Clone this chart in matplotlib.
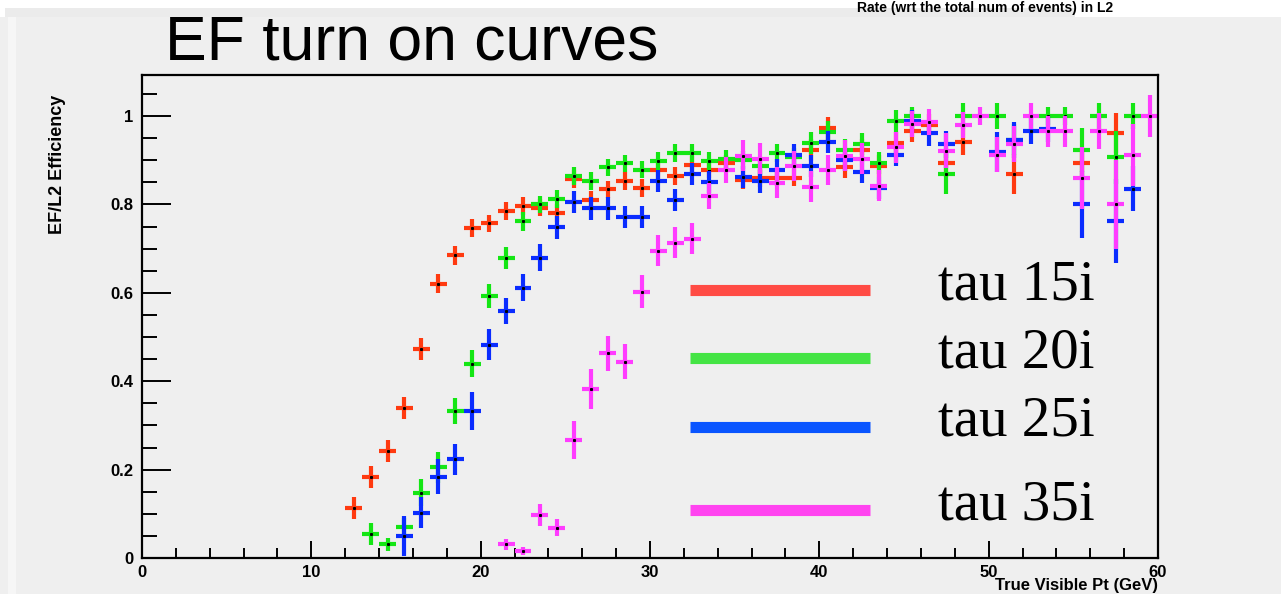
import numpy as np
import matplotlib
matplotlib.use("Agg")
import matplotlib.pyplot as plt
from matplotlib.lines import Line2D
from matplotlib.patches import Rectangle

nan = np.nan

# true visible pT bin centres (1 GeV bins), 12-60 GeV
pt_centres = [12.5, 13.5, 14.5, 15.5, 16.5, 17.5, 18.5, 19.5, 20.5, 21.5, 22.5, 23.5,
              24.5, 25.5, 26.5, 27.5, 28.5, 29.5, 30.5, 31.5, 32.5, 33.5, 34.5, 35.5,
              36.5, 37.5, 38.5, 39.5, 40.5, 41.5, 42.5, 43.5, 44.5, 45.5, 46.5, 47.5,
              48.5, 49.5, 50.5, 51.5, 52.5, 53.5, 54.5, 55.5, 56.5, 57.5, 58.5, 59.5]

labels = ["tau 15i", "tau 20i", "tau 25i", "tau 35i"]

eff_tau15 = [0.113, 0.183, 0.243, 0.339, 0.472, 0.621, 0.685, 0.747, 0.757, 0.786, 0.796, 0.793,
             0.780, 0.857, 0.811, 0.834, 0.853, 0.838, 0.878, 0.864, 0.889, 0.879, 0.893, 0.855,
             0.860, 0.861, 0.861, 0.923, 0.972, 0.884, 0.923, 0.887, 0.938, 0.966, 0.980, 0.893,
             0.942, nan, nan, 0.869, nan, nan, nan, 0.893, nan, 0.961, nan, nan]
err_tau15 = [0.025, 0.025, 0.025, 0.025, 0.025, 0.022, 0.022, 0.02, 0.02, 0.02, 0.02, 0.02,
             0.02, 0.02, 0.02, 0.02, 0.02, 0.02, 0.02, 0.02, 0.02, 0.02, 0.02, 0.02,
             0.02, 0.02, 0.02, 0.025, 0.025, 0.025, 0.025, 0.025, 0.025, 0.025, 0.025, 0.03,
             0.03, nan, nan, 0.045, nan, nan, nan, 0.03, nan, 0.045, nan, nan]

eff_tau20 = [nan, 0.055, 0.031, 0.071, 0.148, 0.205, 0.333, 0.440, 0.593, 0.679, 0.762, 0.800,
             0.812, 0.864, 0.853, 0.884, 0.893, 0.879, 0.899, 0.917, 0.917, 0.898, 0.903, 0.900,
             0.887, 0.917, 0.908, 0.940, 0.965, 0.923, 0.936, 0.893, 0.989, 1.000, nan, 0.869,
             1.000, nan, 1.000, 0.946, nan, 1.000, 1.000, 0.923, 1.000, 0.907, 1.000, nan]
err_tau20 = [nan, 0.025, 0.015, 0.02, 0.03, 0.035, 0.03, 0.03, 0.028, 0.025, 0.022, 0.02,
             0.02, 0.02, 0.02, 0.02, 0.02, 0.02, 0.02, 0.02, 0.02, 0.02, 0.02, 0.02,
             0.02, 0.02, 0.02, 0.025, 0.025, 0.025, 0.025, 0.025, 0.025, 0.02, nan, 0.045,
             0.03, nan, 0.03, 0.035, nan, 0.02, 0.02, 0.05, 0.03, 0.06, 0.03, nan]

eff_tau25 = [nan, nan, nan, 0.050, 0.102, 0.184, 0.223, 0.333, 0.483, 0.559, 0.612, 0.680,
             0.748, 0.806, 0.791, 0.791, 0.772, 0.772, 0.854, 0.811, 0.869, 0.850, nan, 0.863,
             0.852, 0.878, 0.912, 0.887, 0.942, 0.900, 0.874, 0.838, 0.912, 0.989, 0.962, 0.936,
             nan, nan, 0.919, 0.946, 0.966, 0.971, nan, 0.800, nan, 0.762, 0.836, nan]
err_tau25 = [nan, nan, nan, 0.045, 0.035, 0.04, 0.035, 0.043, 0.035, 0.03, 0.03, 0.03,
             0.025, 0.025, 0.025, 0.025, 0.025, 0.025, 0.025, 0.025, 0.025, 0.025, nan, 0.025,
             0.025, 0.025, 0.025, 0.025, 0.025, 0.025, 0.025, 0.025, 0.025, 0.025, 0.03, 0.03,
             nan, nan, 0.045, 0.04, 0.03, 0.03, nan, 0.075, nan, 0.095, 0.05, nan]

eff_tau35 = [nan, nan, nan, nan, nan, nan, nan, nan, nan, 0.031, 0.016, 0.097,
             0.069, 0.267, 0.382, 0.463, 0.444, 0.603, 0.695, 0.713, 0.723, 0.819, 0.878, 0.910,
             0.903, 0.849, 0.887, 0.840, 0.878, 0.910, 0.903, 0.842, 0.929, 0.982, 0.987, 0.922,
             0.980, 1.000, 0.913, 0.937, 1.000, 0.966, 0.966, 0.859, 0.966, 0.800, 0.912, 1.000]
err_tau35 = [nan, nan, nan, nan, nan, nan, nan, nan, nan, 0.012, 0.01, 0.025,
             0.02, 0.043, 0.045, 0.04, 0.04, 0.038, 0.035, 0.035, 0.035, 0.03, 0.03, 0.035,
             0.035, 0.035, 0.035, 0.035, 0.035, 0.035, 0.035, 0.035, 0.035, 0.03, 0.03, 0.04,
             0.03, 0.02, 0.04, 0.04, 0.03, 0.035, 0.035, 0.07, 0.04, 0.1, 0.07, 0.047]

series = [(eff_tau15, err_tau15), (eff_tau20, err_tau20),
          (eff_tau25, err_tau25), (eff_tau35, err_tau35)]
point_colors = ["#ff3a10", "#14e614", "#0a2cff", "#ff3cff"]
key_colors = ["#ff4b44", "#44e444", "#0a55ff", "#ff44f0"]

W, H = 1281, 594
bg = "#efefef"
fig = plt.figure(figsize=(W / 100, H / 100), dpi=100, facecolor=bg)

# slide chrome: white strip along the top edge
fig.add_artist(Rectangle((0, 1 - 17 / H), 1, 17 / H, transform=fig.transFigure,
                         facecolor="white", edgecolor="none", zorder=0))
fig.add_artist(Rectangle((5 / W, 1 - 17 / H), 1070 / W, 9 / H, transform=fig.transFigure,
                         facecolor="#ebebeb", edgecolor="none", zorder=0))
fig.add_artist(Rectangle((8 / W, 0), 8 / W, 1 - 17 / H, transform=fig.transFigure,
                         facecolor="#f6f6f6", edgecolor="none", zorder=0))

ax = fig.add_axes([142 / W, 1 - 558 / H, (1158 - 142) / W, (558 - 75) / H])
ax.set_facecolor(bg)

for (eff, err), col in zip(series, point_colors):
    ax.errorbar(pt_centres, eff, xerr=0.5, yerr=err, fmt="none", ecolor=col,
                elinewidth=3.0, capsize=0)
    ax.plot(pt_centres, eff, ls="none", marker="s", ms=1.2, color="black")

ax.set_xlim(0, 60)
ax.set_ylim(0, 1.093)
ax.set_xticks([0, 10, 20, 30, 40, 50, 60])
ax.set_xticks(np.arange(0, 61, 2), minor=True)
ax.set_yticks([0, 0.2, 0.4, 0.6, 0.8, 1.0])
ax.set_yticks(np.arange(0, 1.09, 0.05), minor=True)
ax.set_yticklabels(["0", "0.2", "0.4", "0.6", "0.8", "1"])
ax.tick_params(axis="y", which="major", direction="in", length=21, width=1.4,
               pad=6, labelsize=12)
ax.tick_params(axis="y", which="minor", direction="in", length=11, width=1.4)
ax.tick_params(axis="x", which="major", direction="in", length=12, width=1.4,
               pad=5, labelsize=12)
ax.tick_params(axis="x", which="minor", direction="in", length=7, width=1.4)
for lab in ax.get_xticklabels() + ax.get_yticklabels():
    lab.set_fontweight("bold")
    lab.set_family("Liberation Sans")
for s in ax.spines.values():
    s.set_linewidth(1.6)

fig.text(58 / W, 1 - 164 / H, "EF/L2 Efficiency", rotation=90, ha="center", va="center",
         fontsize=13, fontweight="bold", family="Liberation Sans")
fig.text(1158 / W, 1 / H, "True Visible Pt (GeV)", ha="right", va="bottom",
         fontsize=12, fontweight="bold", family="Liberation Sans")
fig.text(985 / W, 1 - 1 / H, "Rate (wrt the total num of events) in L2", ha="center",
         va="top", fontsize=10, fontweight="bold", family="Liberation Sans")

fig.text(165 / W, 1 - 60 / H, "EF turn on curves", ha="left", va="baseline",
         fontsize=45, family="Liberation Sans")

# key: thick coloured bars with serif labels
key_rows = [290, 358, 427, 510]
for row, col, lab in zip(key_rows, key_colors, labels):
    y = 1 - row / H
    fig.add_artist(Line2D([690 / W, 870 / W], [y, y], transform=fig.transFigure,
                          color=col, lw=8, solid_capstyle="butt"))
    fig.text(938 / W, 1 - (row - 5) / H, lab, ha="left", va="center",
             fontsize=41, family="Liberation Serif")

fig.savefig("out.png", dpi=100, facecolor=bg)
